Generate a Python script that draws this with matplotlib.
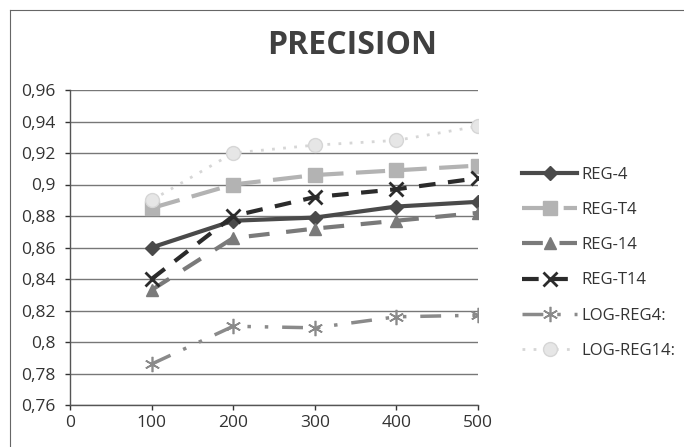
import matplotlib.pyplot as plt
from matplotlib.lines import Line2D

# data
sizes = [100, 200, 300, 400, 500]
reg_4 = [0.860, 0.877, 0.879, 0.886, 0.889]
reg_t4 = [0.885, 0.900, 0.906, 0.909, 0.912]
reg_14 = [0.833, 0.866, 0.872, 0.877, 0.882]
reg_t14 = [0.840, 0.880, 0.892, 0.897, 0.904]
log_reg4 = [0.786, 0.810, 0.809, 0.816, 0.817]
log_reg14 = [0.890, 0.920, 0.925, 0.928, 0.937]
y_ticks = [0.76, 0.78, 0.80, 0.82, 0.84, 0.86, 0.88, 0.90, 0.92, 0.94, 0.96]
y_labels = ['0,76', '0,78', '0,8', '0,82', '0,84', '0,86', '0,88', '0,9',
            '0,92', '0,94', '0,96']
x_ticks = [0, 100, 200, 300, 400, 500]

plt.rcParams['font.family'] = ['Open Sans', 'DejaVu Sans']

W, H = 684, 447
fig = plt.figure(figsize=(W / 100, H / 100), dpi=100)
ax = fig.add_axes([70 / W, 1 - 405 / H, (478 - 70) / W, (405 - 90) / H])

# outer chart border (top and left visible in the scan)
fig.add_artist(Line2D([10 / W, 1], [1 - 10 / H, 1 - 10 / H], color='#666666', lw=0.8))
fig.add_artist(Line2D([10 / W, 10 / W], [0, 1 - 10 / H], color='#666666', lw=0.8))

ax.plot(sizes, reg_4, color='#4a4a4a', lw=3, marker='D', ms=7, label='REG-4')
ax.plot(sizes, reg_t4, color='#b3b3b3', lw=3, dashes=(7, 3), marker='s', ms=10,
        label='REG-T4')
ax.plot(sizes, reg_14, color='#7a7a7a', lw=3, dashes=(5, 4), marker='^', ms=9,
        label='REG-14')
ax.plot(sizes, reg_t14, color='#2b2b2b', lw=3, dashes=(4, 3), marker='x', ms=10,
        mew=2, label='REG-T14')
ax.plot(sizes, log_reg4, color='#8a8a8a', lw=2.5, dashes=(6, 4, 1, 4, 1, 4),
        marker=(6, 2, 0), ms=11, mew=1.2, label='LOG-REG4:')
ax.plot(sizes, log_reg14, color='#d6d6d6', lw=2, dashes=(1, 3), marker='o', ms=10,
        mfc='#e6e6e6', label='LOG-REG14:')

ax.set_xlim(0, 500)
ax.set_ylim(0.76, 0.96)
ax.set_xticks(x_ticks)
ax.set_yticks(y_ticks)
ax.set_yticklabels(y_labels)
ax.tick_params(axis='both', labelsize=12.5, colors='#333333', length=3.5, width=1,
               direction='out')
ax.tick_params(axis='x', pad=4)
ax.tick_params(axis='y', pad=7)
ax.grid(axis='y', color='#777777', lw=1)
ax.set_axisbelow(True)
for s in ['top', 'right']:
    ax.spines[s].set_visible(False)
for s in ['left', 'bottom']:
    ax.spines[s].set_color('#555555')
    ax.spines[s].set_linewidth(1)

fig.text(352 / W, 1 - 46 / H, 'PRECISION', ha='center', va='center',
         fontsize=23, fontweight='bold', color='#404040')

fig.legend(loc='upper left', bbox_to_anchor=(507 / W, 1 - 152 / H), frameon=False,
           fontsize=12, handlelength=3.3, labelspacing=1.15, handletextpad=0.25,
           labelcolor='#333333')

fig.savefig('out.png', dpi=100)
